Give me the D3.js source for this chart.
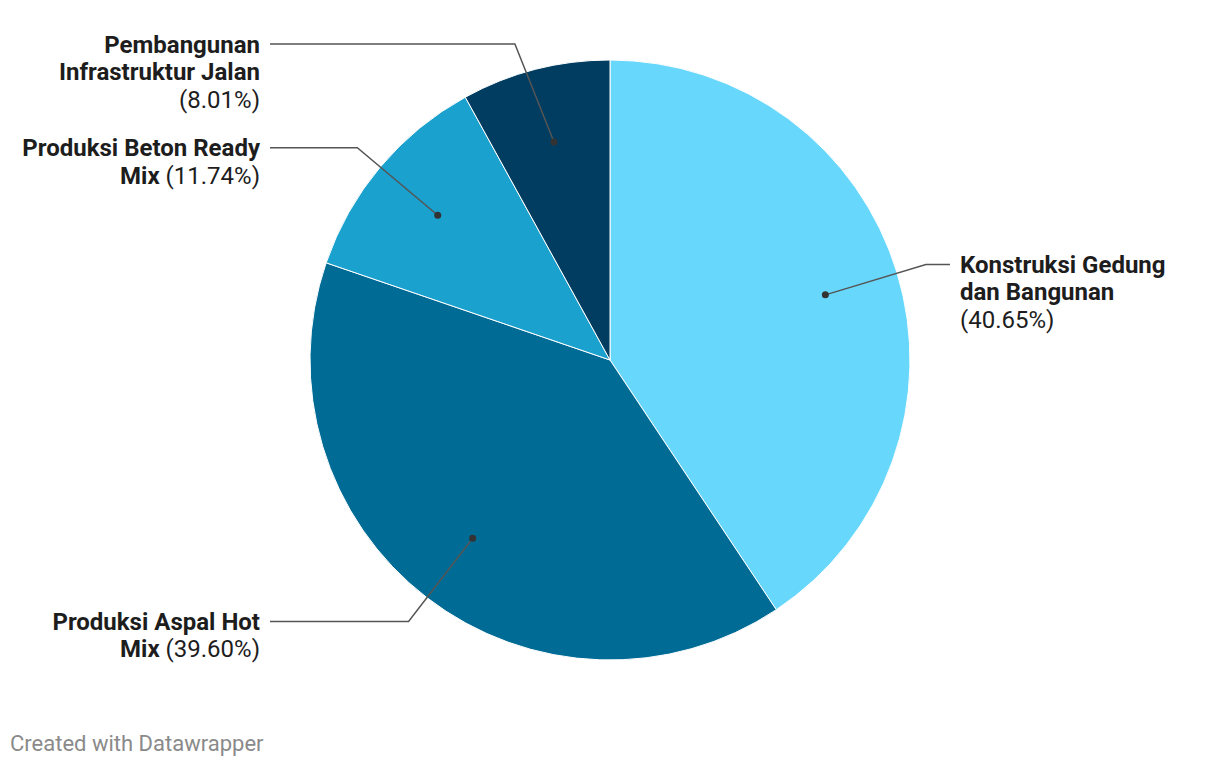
<!DOCTYPE html>
<html><head><meta charset="utf-8">
<script src="https://cdn.jsdelivr.net/npm/d3@7"></script>
<style>
body{margin:0;background:#fff;}
svg text{font-family:Roboto,"Noto Sans",sans-serif;}
</style></head>
<body>
<svg id="chart" width="1220" height="766"></svg>
<script>
const categories = ["Konstruksi Gedung dan Bangunan","Produksi Aspal Hot Mix","Produksi Beton Ready Mix","Pembangunan Infrastruktur Jalan"];
const values = [40.65, 39.60, 11.74, 8.01];
const colors = ["#68d7fc","#006c96","#1aa1ce","#003d61"];
// label line breaks
const labelBold = [["Konstruksi Gedung","dan Bangunan"],["Produksi Aspal Hot","Mix"],["Produksi Beton Ready","Mix"],["Pembangunan","Infrastruktur Jalan"]];
const pctOnOwnLine = [true,false,false,true];

const W=1220,H=766,cx=610,cy=360,R=300;
const svg=d3.select("#chart");
const data=categories.map((c,i)=>({c,v:values[i],col:colors[i],bold:labelBold[i],own:pctOnOwnLine[i]}));
const pie=d3.pie().sort(null).value(d=>d.v);
const arcs=pie(data);
const arc=d3.arc().innerRadius(0).outerRadius(R);
const g=svg.append("g").attr("transform",`translate(${cx},${cy})`);
g.selectAll("path").data(arcs).join("path").attr("d",arc).attr("fill",d=>d.data.col).attr("stroke","#fff").attr("stroke-width",1);

const lineH=27.5, rElbow=330, rDot=0.75*R;
arcs.forEach(a=>{
  const m=(a.startAngle+a.endAngle)/2;
  const dx=Math.sin(m)*rDot, dy=-Math.cos(m)*rDot;
  const right=Math.sin(m)>0;
  let ly=-Math.cos(m)*rElbow;
  ly=Math.max(ly,44-cy);
  const ex=(right?1:-1)*Math.sqrt(rElbow*rElbow-ly*ly);
  const hx=right?950-cx:270-cx;
  g.append("path").attr("d",`M${dx},${dy}L${ex},${ly}L${hx},${ly}`).attr("fill","none").attr("stroke","#555").attr("stroke-width",1.5);
  g.append("circle").attr("cx",dx).attr("cy",dy).attr("r",3.5).attr("fill","#333");
  const tx=right?960-cx:260-cx;
  const t=g.append("text").attr("x",tx).attr("y",ly+8.5).attr("text-anchor",right?"start":"end").attr("font-size",24).attr("fill","#1d1d1d");
  const b=a.data.bold;
  b.forEach((ln,i)=>{
    t.append("tspan").attr("x",tx).attr("dy",i===0?0:lineH).attr("font-weight","bold").text(ln);
    if(i===b.length-1 && !a.data.own){
      t.append("tspan").attr("font-weight","normal").text(" ("+a.data.v.toFixed(2)+"%)");
    }
  });
  if(a.data.own){
    t.append("tspan").attr("x",tx).attr("dy",lineH).attr("font-weight","normal").text("("+a.data.v.toFixed(2)+"%)");
  }
});

svg.append("text").attr("x",10).attr("y",751).attr("font-size",22).attr("fill","#8a8a8a").text("Created with Datawrapper");
</script>
</body></html>
